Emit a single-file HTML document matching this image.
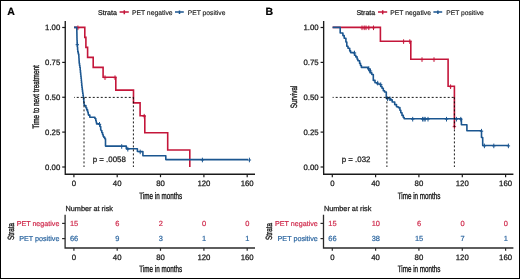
<!DOCTYPE html>
<html><head><meta charset="utf-8"><style>
html,body{margin:0;padding:0;background:#fff;}
svg{display:block;font-family:"Liberation Sans",sans-serif;will-change:transform;}
text{stroke-linejoin:round;text-rendering:geometricPrecision;}
</style></head><body>
<svg width="520" height="279" viewBox="0 0 520 279" stroke-width="0.25">
<rect x="0" y="0" width="520" height="279" fill="#fff"/>
<text x="7.15" y="14.55" font-size="10.5" font-weight="bold" fill="#000" stroke="#000" stroke-width="0.2">A</text>
<text x="98" y="14.5" font-size="7.05" fill="#1a1a1a" stroke="#1a1a1a">Strata</text>
<path d="M119.6 11.9H128.8M124.3 10.3V14.3" stroke="#C4163A" stroke-width="1.5" fill="none"/>
<text x="131.9" y="14.5" font-size="6.8" fill="#1a1a1a" stroke="#1a1a1a" stroke-width="0.15">PET negative</text>
<path d="M175 11.9H183.8M179.5 10.4V14.1" stroke="#1B5690" stroke-width="1.5" fill="none"/>
<text x="187.8" y="14.5" font-size="6.72" fill="#1a1a1a" stroke="#1a1a1a" stroke-width="0.15">PET positive</text>
<text transform="translate(38.9 97) rotate(-90) scale(0.69 1)" text-anchor="middle" font-size="9.25" fill="#1a1a1a" stroke="#1a1a1a" stroke-width="0.38">Time to next treatment</text>
<path d="M65.25 21V174.25H255" stroke="#1a1a1a" stroke-width="1.35" fill="none"/>
<path d="M62.2 27.5H65.25" stroke="#1a1a1a" stroke-width="1.2"/>
<text x="60.3" y="30.2" font-size="7.8" text-anchor="end" fill="#1a1a1a" stroke="#1a1a1a">1.00</text>
<path d="M62.2 62.4H65.25" stroke="#1a1a1a" stroke-width="1.2"/>
<text x="60.3" y="65.1" font-size="7.8" text-anchor="end" fill="#1a1a1a" stroke="#1a1a1a">0.75</text>
<path d="M62.2 97.25H65.25" stroke="#1a1a1a" stroke-width="1.2"/>
<text x="60.3" y="99.95" font-size="7.8" text-anchor="end" fill="#1a1a1a" stroke="#1a1a1a">0.50</text>
<path d="M62.2 132.1H65.25" stroke="#1a1a1a" stroke-width="1.2"/>
<text x="60.3" y="134.8" font-size="7.8" text-anchor="end" fill="#1a1a1a" stroke="#1a1a1a">0.25</text>
<path d="M62.2 167H65.25" stroke="#1a1a1a" stroke-width="1.2"/>
<text x="60.3" y="169.7" font-size="7.8" text-anchor="end" fill="#1a1a1a" stroke="#1a1a1a">0.00</text>
<path d="M73.9 174.25V177.2" stroke="#1a1a1a" stroke-width="1.2"/>
<text x="73.9" y="186.2" font-size="7.8" text-anchor="middle" fill="#1a1a1a" stroke="#1a1a1a">0</text>
<path d="M117.2 174.25V177.2" stroke="#1a1a1a" stroke-width="1.2"/>
<text x="117.2" y="186.2" font-size="7.8" text-anchor="middle" fill="#1a1a1a" stroke="#1a1a1a">40</text>
<path d="M160.5 174.25V177.2" stroke="#1a1a1a" stroke-width="1.2"/>
<text x="160.5" y="186.2" font-size="7.8" text-anchor="middle" fill="#1a1a1a" stroke="#1a1a1a">80</text>
<path d="M203.9 174.25V177.2" stroke="#1a1a1a" stroke-width="1.2"/>
<text x="203.9" y="186.2" font-size="7.8" text-anchor="middle" fill="#1a1a1a" stroke="#1a1a1a">120</text>
<path d="M247.2 174.25V177.2" stroke="#1a1a1a" stroke-width="1.2"/>
<text x="247.2" y="186.2" font-size="7.8" text-anchor="middle" fill="#1a1a1a" stroke="#1a1a1a">160</text>
<text transform="translate(160.7 198.7) scale(0.68 1)" text-anchor="middle" font-size="9.25" fill="#1a1a1a" stroke="#1a1a1a" stroke-width="0.38">Time in months</text>
<path d="M74 27.4H84.8V37.4H85.9V47.4H87.6V57.4H93.2V67.4H103.1V77.3H115.8V90.1H133.5V102.9H140.1V115.8H144.8V132.8H167.7V150H189.8V167" stroke="#C4163A" stroke-width="1.6" fill="none"/>
<path d="M76.2 27.8H79.6M77.9 25.5V30.1M103.3 77.7H106.7M105 75.4V80M113.3 77.7H116.7M115 75.4V80M142.5 116.2H145.9M144.2 113.9V118.5" stroke="#C4163A" stroke-width="1" fill="none"/>
<path d="M74 27.4H76.8V29.52H76.84V31.64H76.88V33.76H76.92V35.88H76.96V38H77V40.27H77.13V42.53H77.27V44.8H77.4V47.3H77.6V49.8H77.8V51.9H78.3V54H78.8V56H78.9V58H79V59.6H79.1V61.2H79.2V63.33H79.53V65.47H79.87V67.6H80.2V70.2H80.45V72.8H80.7V74.72H80.9V76.65H81.1V78.58H81.3V80.5H81.5V83.1H81.75V85.7H82V87.8H82.27V89.9H82.53V92H82.8V93.83H83.07V95.67H83.33V97.5H83.6V99.77H83.8V102.03H84V104.3H84.2V105.6H85.9V107.7H86.7V109.9H87.6V112H88.2V114.2H88.5V115.1H89.8V117.2H90.2H94.9V118.5H95.8V120.7H96.2V122.3H96.6V123.9H97H99.2V124.5H100V126.6H100.7V129.6H100.9V130.5H101.8V132.6H102.6V134.8H103.3V136.5H103.9V137.4H104.8V138.7H105.5V144.2V146.1H106.5H126.3V148.8H137.4V151.5H142.9V155.7H165.8V159.6H248" stroke="#1B5690" stroke-width="1.6" fill="none" stroke-linejoin="round"/>
<path d="M75.6 44.7H79M77.3 42.4V47M97.8 124.3H101.2M99.5 122V126.6M120 146.5H123.4M121.7 144.2V148.8M126.1 149.2H129.5M127.8 146.9V151.5M138.5 151.9H141.9M140.2 149.6V154.2M200.7 160H204.1M202.4 157.7V162.3M247.7 160H251.1M249.4 157.7V162.3" stroke="#1B5690" stroke-width="1" fill="none"/>
<path d="M74 97.4H133.5" stroke="#000" stroke-width="0.9" stroke-dasharray="2 2" stroke-dashoffset="1.25" fill="none"/>
<path d="M84 97.4V167M133.4 97.4V167" stroke="#000" stroke-width="0.9" stroke-dasharray="2 2" stroke-dashoffset="0" fill="none"/>
<text x="92.7" y="161.8" font-size="7.9" fill="#1a1a1a" stroke="#1a1a1a">p = .0058</text>
<text x="65.5" y="210.6" font-size="7.3" fill="#1a1a1a" stroke="#1a1a1a">Number at risk</text>
<text transform="translate(14 231.4) rotate(-90) scale(0.71 1)" text-anchor="middle" font-size="9" fill="#1a1a1a" stroke="#1a1a1a" stroke-width="0.38">Strata</text>
<text x="59.4" y="225.9" font-size="7.15" text-anchor="end" fill="#CF2A4C" stroke="#CF2A4C" stroke-width="0.2">PET negative</text>
<text x="59.4" y="241.3" font-size="7.2" text-anchor="end" fill="#2C66A0" stroke="#2C66A0" stroke-width="0.2">PET positive</text>
<path d="M65.1 214.8V248H255" stroke="#2a2a2a" stroke-width="1.3" fill="none"/>
<path d="M62.1 223.4H65.1" stroke="#2a2a2a" stroke-width="1.2"/>
<path d="M62.1 238.6H65.1" stroke="#2a2a2a" stroke-width="1.2"/>
<path d="M73.9 248V250.8" stroke="#2a2a2a" stroke-width="1.2"/>
<text x="73.9" y="259.9" font-size="7.8" text-anchor="middle" fill="#1a1a1a" stroke="#1a1a1a">0</text>
<text x="74.1" y="226.1" font-size="7.45" text-anchor="middle" fill="#CF2A4C" stroke="#CF2A4C" stroke-width="0.2">15</text>
<text x="74.1" y="241.3" font-size="7.45" text-anchor="middle" fill="#2C66A0" stroke="#2C66A0" stroke-width="0.2">66</text>
<path d="M117.2 248V250.8" stroke="#2a2a2a" stroke-width="1.2"/>
<text x="117.2" y="259.9" font-size="7.8" text-anchor="middle" fill="#1a1a1a" stroke="#1a1a1a">40</text>
<text x="117.4" y="226.1" font-size="7.45" text-anchor="middle" fill="#CF2A4C" stroke="#CF2A4C" stroke-width="0.2">6</text>
<text x="117.4" y="241.3" font-size="7.45" text-anchor="middle" fill="#2C66A0" stroke="#2C66A0" stroke-width="0.2">9</text>
<path d="M160.5 248V250.8" stroke="#2a2a2a" stroke-width="1.2"/>
<text x="160.5" y="259.9" font-size="7.8" text-anchor="middle" fill="#1a1a1a" stroke="#1a1a1a">80</text>
<text x="160.7" y="226.1" font-size="7.45" text-anchor="middle" fill="#CF2A4C" stroke="#CF2A4C" stroke-width="0.2">2</text>
<text x="160.7" y="241.3" font-size="7.45" text-anchor="middle" fill="#2C66A0" stroke="#2C66A0" stroke-width="0.2">3</text>
<path d="M203.9 248V250.8" stroke="#2a2a2a" stroke-width="1.2"/>
<text x="203.9" y="259.9" font-size="7.8" text-anchor="middle" fill="#1a1a1a" stroke="#1a1a1a">120</text>
<text x="204.1" y="226.1" font-size="7.45" text-anchor="middle" fill="#CF2A4C" stroke="#CF2A4C" stroke-width="0.2">0</text>
<text x="204.1" y="241.3" font-size="7.45" text-anchor="middle" fill="#2C66A0" stroke="#2C66A0" stroke-width="0.2">1</text>
<path d="M247.2 248V250.8" stroke="#2a2a2a" stroke-width="1.2"/>
<text x="247.2" y="259.9" font-size="7.8" text-anchor="middle" fill="#1a1a1a" stroke="#1a1a1a">160</text>
<text x="247.4" y="226.1" font-size="7.45" text-anchor="middle" fill="#CF2A4C" stroke="#CF2A4C" stroke-width="0.2">0</text>
<text x="247.4" y="241.3" font-size="7.45" text-anchor="middle" fill="#2C66A0" stroke="#2C66A0" stroke-width="0.2">1</text>
<text transform="translate(160.7 271.9) scale(0.68 1)" text-anchor="middle" font-size="9.25" fill="#1a1a1a" stroke="#1a1a1a" stroke-width="0.38">Time in months</text>
<text x="265.55" y="14.55" font-size="10.5" font-weight="bold" fill="#000" stroke="#000" stroke-width="0.2">B</text>
<text x="356.4" y="14.5" font-size="7.05" fill="#1a1a1a" stroke="#1a1a1a">Strata</text>
<path d="M378 11.9H387.2M382.7 10.3V14.3" stroke="#C4163A" stroke-width="1.5" fill="none"/>
<text x="390.3" y="14.5" font-size="6.8" fill="#1a1a1a" stroke="#1a1a1a" stroke-width="0.15">PET negative</text>
<path d="M433.4 11.9H442.2M437.9 10.4V14.1" stroke="#1B5690" stroke-width="1.5" fill="none"/>
<text x="446.2" y="14.5" font-size="6.72" fill="#1a1a1a" stroke="#1a1a1a" stroke-width="0.15">PET positive</text>
<text transform="translate(297.3 97) rotate(-90) scale(0.69 1)" text-anchor="middle" font-size="9.25" fill="#1a1a1a" stroke="#1a1a1a" stroke-width="0.38">Survival</text>
<path d="M323.65 21V174.25H513.4" stroke="#1a1a1a" stroke-width="1.35" fill="none"/>
<path d="M320.6 27.5H323.65" stroke="#1a1a1a" stroke-width="1.2"/>
<text x="318.7" y="30.2" font-size="7.8" text-anchor="end" fill="#1a1a1a" stroke="#1a1a1a">1.00</text>
<path d="M320.6 62.4H323.65" stroke="#1a1a1a" stroke-width="1.2"/>
<text x="318.7" y="65.1" font-size="7.8" text-anchor="end" fill="#1a1a1a" stroke="#1a1a1a">0.75</text>
<path d="M320.6 97.25H323.65" stroke="#1a1a1a" stroke-width="1.2"/>
<text x="318.7" y="99.95" font-size="7.8" text-anchor="end" fill="#1a1a1a" stroke="#1a1a1a">0.50</text>
<path d="M320.6 132.1H323.65" stroke="#1a1a1a" stroke-width="1.2"/>
<text x="318.7" y="134.8" font-size="7.8" text-anchor="end" fill="#1a1a1a" stroke="#1a1a1a">0.25</text>
<path d="M320.6 167H323.65" stroke="#1a1a1a" stroke-width="1.2"/>
<text x="318.7" y="169.7" font-size="7.8" text-anchor="end" fill="#1a1a1a" stroke="#1a1a1a">0.00</text>
<path d="M332.3 174.25V177.2" stroke="#1a1a1a" stroke-width="1.2"/>
<text x="332.3" y="186.2" font-size="7.8" text-anchor="middle" fill="#1a1a1a" stroke="#1a1a1a">0</text>
<path d="M375.6 174.25V177.2" stroke="#1a1a1a" stroke-width="1.2"/>
<text x="375.6" y="186.2" font-size="7.8" text-anchor="middle" fill="#1a1a1a" stroke="#1a1a1a">40</text>
<path d="M418.9 174.25V177.2" stroke="#1a1a1a" stroke-width="1.2"/>
<text x="418.9" y="186.2" font-size="7.8" text-anchor="middle" fill="#1a1a1a" stroke="#1a1a1a">80</text>
<path d="M462.3 174.25V177.2" stroke="#1a1a1a" stroke-width="1.2"/>
<text x="462.3" y="186.2" font-size="7.8" text-anchor="middle" fill="#1a1a1a" stroke="#1a1a1a">120</text>
<path d="M505.6 174.25V177.2" stroke="#1a1a1a" stroke-width="1.2"/>
<text x="505.6" y="186.2" font-size="7.8" text-anchor="middle" fill="#1a1a1a" stroke="#1a1a1a">160</text>
<text transform="translate(419.1 198.7) scale(0.68 1)" text-anchor="middle" font-size="9.25" fill="#1a1a1a" stroke="#1a1a1a" stroke-width="0.38">Time in months</text>
<path d="" stroke="#C4163A" stroke-width="1.6" fill="none"/>
<path d="" stroke="#C4163A" stroke-width="1" fill="none"/>
<path d="" stroke="#1B5690" stroke-width="1.6" fill="none" stroke-linejoin="round"/>
<path d="" stroke="#1B5690" stroke-width="1" fill="none"/>
<text x="341.7" y="161.8" font-size="7.9" fill="#1a1a1a" stroke="#1a1a1a">p = .032</text>
<text x="323.9" y="210.6" font-size="7.3" fill="#1a1a1a" stroke="#1a1a1a">Number at risk</text>
<text transform="translate(272.4 231.4) rotate(-90) scale(0.71 1)" text-anchor="middle" font-size="9" fill="#1a1a1a" stroke="#1a1a1a" stroke-width="0.38">Strata</text>
<text x="317.8" y="225.9" font-size="7.15" text-anchor="end" fill="#CF2A4C" stroke="#CF2A4C" stroke-width="0.2">PET negative</text>
<text x="317.8" y="241.3" font-size="7.2" text-anchor="end" fill="#2C66A0" stroke="#2C66A0" stroke-width="0.2">PET positive</text>
<path d="M323.5 214.8V248H513.4" stroke="#2a2a2a" stroke-width="1.3" fill="none"/>
<path d="M320.5 223.4H323.5" stroke="#2a2a2a" stroke-width="1.2"/>
<path d="M320.5 238.6H323.5" stroke="#2a2a2a" stroke-width="1.2"/>
<path d="M332.3 248V250.8" stroke="#2a2a2a" stroke-width="1.2"/>
<text x="332.3" y="259.9" font-size="7.8" text-anchor="middle" fill="#1a1a1a" stroke="#1a1a1a">0</text>
<text x="332.5" y="226.1" font-size="7.45" text-anchor="middle" fill="#CF2A4C" stroke="#CF2A4C" stroke-width="0.2">15</text>
<text x="332.5" y="241.3" font-size="7.45" text-anchor="middle" fill="#2C66A0" stroke="#2C66A0" stroke-width="0.2">66</text>
<path d="M375.6 248V250.8" stroke="#2a2a2a" stroke-width="1.2"/>
<text x="375.6" y="259.9" font-size="7.8" text-anchor="middle" fill="#1a1a1a" stroke="#1a1a1a">40</text>
<text x="375.8" y="226.1" font-size="7.45" text-anchor="middle" fill="#CF2A4C" stroke="#CF2A4C" stroke-width="0.2">10</text>
<text x="375.8" y="241.3" font-size="7.45" text-anchor="middle" fill="#2C66A0" stroke="#2C66A0" stroke-width="0.2">38</text>
<path d="M418.9 248V250.8" stroke="#2a2a2a" stroke-width="1.2"/>
<text x="418.9" y="259.9" font-size="7.8" text-anchor="middle" fill="#1a1a1a" stroke="#1a1a1a">80</text>
<text x="419.1" y="226.1" font-size="7.45" text-anchor="middle" fill="#CF2A4C" stroke="#CF2A4C" stroke-width="0.2">6</text>
<text x="419.1" y="241.3" font-size="7.45" text-anchor="middle" fill="#2C66A0" stroke="#2C66A0" stroke-width="0.2">15</text>
<path d="M462.3 248V250.8" stroke="#2a2a2a" stroke-width="1.2"/>
<text x="462.3" y="259.9" font-size="7.8" text-anchor="middle" fill="#1a1a1a" stroke="#1a1a1a">120</text>
<text x="462.5" y="226.1" font-size="7.45" text-anchor="middle" fill="#CF2A4C" stroke="#CF2A4C" stroke-width="0.2">0</text>
<text x="462.5" y="241.3" font-size="7.45" text-anchor="middle" fill="#2C66A0" stroke="#2C66A0" stroke-width="0.2">7</text>
<path d="M505.6 248V250.8" stroke="#2a2a2a" stroke-width="1.2"/>
<text x="505.6" y="259.9" font-size="7.8" text-anchor="middle" fill="#1a1a1a" stroke="#1a1a1a">160</text>
<text x="505.8" y="226.1" font-size="7.45" text-anchor="middle" fill="#CF2A4C" stroke="#CF2A4C" stroke-width="0.2">0</text>
<text x="505.8" y="241.3" font-size="7.45" text-anchor="middle" fill="#2C66A0" stroke="#2C66A0" stroke-width="0.2">1</text>
<text transform="translate(419.1 271.9) scale(0.68 1)" text-anchor="middle" font-size="9.25" fill="#1a1a1a" stroke="#1a1a1a" stroke-width="0.38">Time in months</text>
<path d="M332.6 27.4H380.4V41.2H410.8V59.2H448.1V86.3H454.4V126.8" stroke="#C4163A" stroke-width="1.6" fill="none"/>
<path d="M360.3 27.8H363.7M362 25.5V30.1M362.5 27.8H365.9M364.2 25.5V30.1M364.3 27.8H367.7M366 25.5V30.1M367.1 27.8H370.5M368.8 25.5V30.1M371.8 27.8H375.2M373.5 25.5V30.1M401.9 41.6H405.3M403.6 39.3V43.9M408.1 41.6H411.5M409.8 39.3V43.9M420.3 59.6H423.7M422 57.3V61.9M432.3 59.6H435.7M434 57.3V61.9M448.9 86.7H452.3M450.6 84.4V89M452.7 126.7H456.1M454.4 124.4V129" stroke="#C4163A" stroke-width="1" fill="none"/>
<path d="M332.6 27.4H340.2V33H342.9V35.6H344.2V38.2H345.9V42H346.8V44.5V46.2H348V48.3H349.7V50.9H350.6V52.6H354.5V55.2H355.8V56.9H357.1V59.1H357.9V60.8H359.6V63.4H360.5V65.5H361.4V67.4H362.2H368.2V69.2H369V70.6H370V72.8H371.8V74.5H373.3V79.9V80.4H375V82.7H377.2V84H379.4V84.3H380.7V86.5H382V88.2H383.3V90.8H384.6V92H386.3V98.3H390.2V99.9H392.2V102H394.7V104.6H396.5V106.8H398.2V107.6H399.9V110.2H400.8V112.8H402V115.4H403.3V117.5H404.2V118.8H405.1H461.4V124.7H466.9V130.8H481.5V137.5H482.7V145.5H508.4" stroke="#1B5690" stroke-width="1.6" fill="none" stroke-linejoin="round"/>
<path d="M352.8 53H356.2M354.5 50.7V55.3M367.1 68.6H370.5M368.8 66.3V70.9M368.8 71H372.2M370.5 68.7V73.3M376 83.1H379.4M377.7 80.8V85.4M379 84.7H382.4M380.7 82.4V87M385.9 98.7H389.3M387.6 96.4V101M388.2 98.7H391.6M389.9 96.4V101M411 119.2H414.4M412.7 116.9V121.5M420.9 119.2H424.3M422.6 116.9V121.5M422.3 119.2H425.7M424 116.9V121.5M423.5 119.2H426.9M425.2 116.9V121.5M426.3 119.2H429.7M428 116.9V121.5M444.8 119.2H448.2M446.5 116.9V121.5M454.7 119.2H458.1M456.4 116.9V121.5M459.1 119.2H462.5M460.8 116.9V121.5M479.8 131.2H483.2M481.5 128.9V133.5M482.7 145.9H486.1M484.4 143.6V148.2M492.1 145.9H495.5M493.8 143.6V148.2M506.7 145.9H510.1M508.4 143.6V148.2" stroke="#1B5690" stroke-width="1" fill="none"/>
<path d="M332.6 97.4H454.6" stroke="#000" stroke-width="0.9" stroke-dasharray="2 2" stroke-dashoffset="0.9" fill="none"/>
<path d="M386.9 97.4V167M454.4 97.4V167" stroke="#000" stroke-width="0.9" stroke-dasharray="2 2" fill="none"/>
<rect x="0.5" y="0.5" width="519" height="278" fill="none" stroke="#000" stroke-width="1"/>
</svg>
</body></html>
